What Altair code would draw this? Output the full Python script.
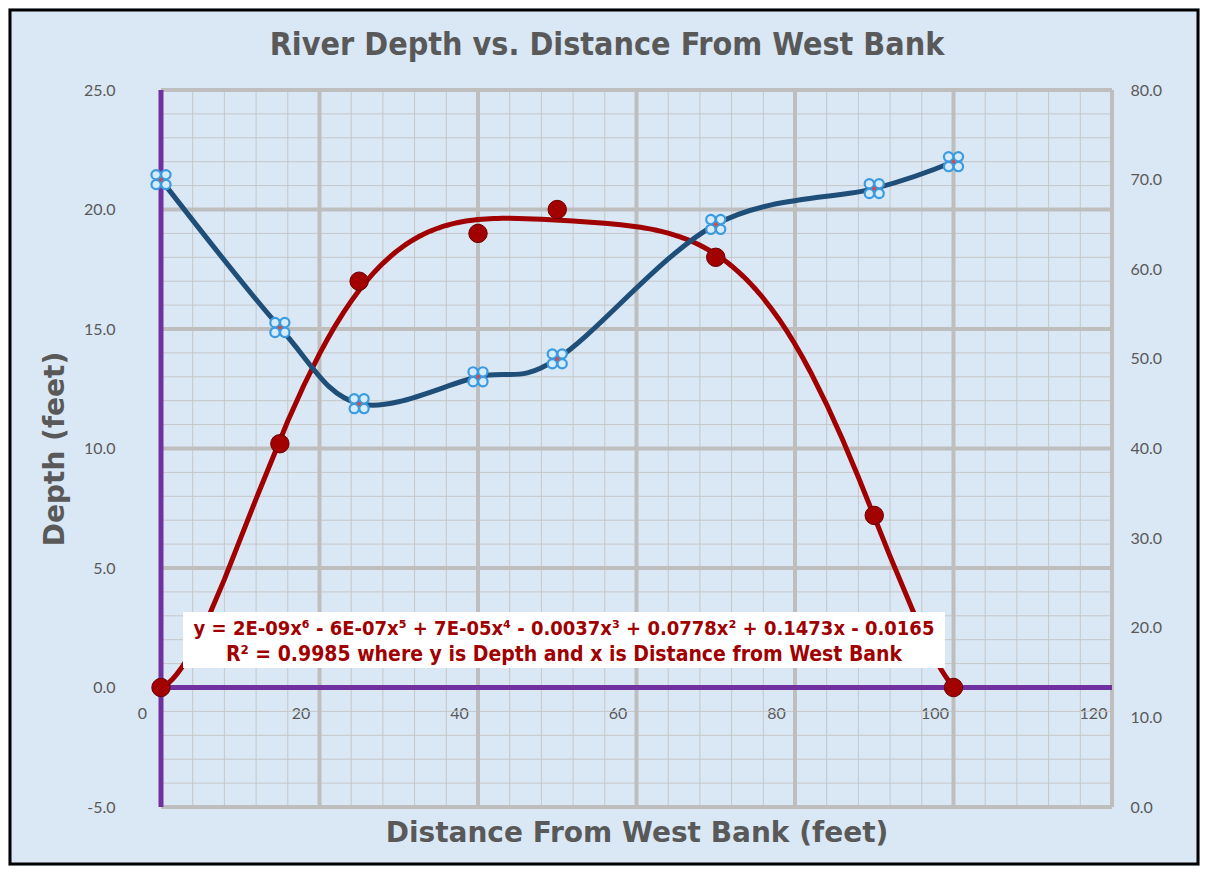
import altair as alt
import pandas as pd

# ---------------- data ----------------
distance = [0, 15, 25, 40, 50, 70, 90, 100]
depth = [0.0, 10.2, 17.0, 19.0, 20.0, 18.0, 7.2, 0.0]
right_series = [70.0, 53.5, 45.0, 48.0, 50.0, 65.0, 69.0, 72.0]

x_ticks = [0, 20, 40, 60, 80, 100, 120]
x_minor = list(range(0, 121, 4))
y_left_ticks = [-5, 0, 5, 10, 15, 20, 25]
y_minor = list(range(-5, 26))
y_right_ticks = [0, 10, 20, 30, 40, 50, 60, 70, 80]

chart_title = "River Depth vs. Distance From West Bank"
x_title = "Distance From West Bank (feet)"
y_title = "Depth (feet)"
eq_line1 = "y = 2E-09x\u2076 - 6E-07x\u2075 + 7E-05x\u2074 - 0.0037x\u00b3 + 0.0778x\u00b2 + 0.1473x - 0.0165"
eq_line2 = "R\u00b2 = 0.9985 where y is Depth and x is Distance from West Bank"

# ---------------- styles ----------------
GRAY_TXT = "#595959"
PURPLE = "#7030a0"
RED = "#a00000"
BLUE = "#1f4e79"
LABEL_FONT = "Lato"
TITLE_FONT = "DejaVu Sans"
NARROW_FONT = "DejaVu Sans Condensed, Liberation Sans, sans-serif"

W, H = 951, 717

red_df = pd.DataFrame({"x": distance, "y": depth})
blue_df = pd.DataFrame({"x": distance, "v": right_series})

xs = alt.Scale(domain=[0, 120], nice=False, zero=False)
yls = alt.Scale(domain=[-5, 25], nice=False, zero=False)
yrs = alt.Scale(domain=[0, 80], nice=False, zero=False)

x_axis = alt.Axis(values=x_ticks, format="d", title=x_title, grid=False, domain=False,
                  ticks=False, tickSize=0, labelPadding=17, labelOffset=-19, offset=-119,
                  labelFlush=False, labelOverlap=False, labelFont=LABEL_FONT, labelFontSize=16,
                  labelColor=GRAY_TXT, titleFont=TITLE_FONT, titleFontSize=28,
                  titleFontWeight="bold", titleColor=GRAY_TXT, titleY=145,
                  titleBaseline="middle")
y_axis = alt.Axis(values=y_left_ticks, format=".1f", title=y_title, grid=False, domain=False,
                  ticks=False, tickSize=0, labelPadding=46, labelFont=LABEL_FONT,
                  labelFontSize=16, labelColor=GRAY_TXT, labelOverlap=False, labelFlush=False,
                  labelExpr="replace(datum.label, '\u2212', '-')",
                  titleFont=TITLE_FONT, titleFontSize=28, titleFontWeight="bold",
                  titleColor=GRAY_TXT, titleX=-106, titleY=358.5, titleAngle=270,
                  titleAlign="center", titleBaseline="middle")
yr_axis = alt.Axis(values=y_right_ticks, format=".1f", title=None, grid=False, domain=False,
                   ticks=False, tickSize=0, labelPadding=18, labelFont=LABEL_FONT,
                   labelFontSize=16, labelColor=GRAY_TXT, orient="right",
                   labelOverlap=False, labelFlush=False)

X = alt.X("x:Q", scale=xs, axis=x_axis)
Y = alt.Y("y:Q", scale=yls, axis=y_axis)

minor_x = alt.Chart(pd.DataFrame({"x": x_minor})).mark_rule(color="#c6c6c6", strokeWidth=1).encode(x=X)
minor_y = alt.Chart(pd.DataFrame({"y": y_minor})).mark_rule(color="#c6c6c6", strokeWidth=1).encode(y=Y)
major_x = alt.Chart(pd.DataFrame({"x": x_ticks})).mark_rule(color="#bebebe", strokeWidth=4).encode(x=X)
major_y = alt.Chart(pd.DataFrame({"y": y_left_ticks})).mark_rule(color="#bebebe", strokeWidth=4).encode(y=Y)
purple_v = alt.Chart(pd.DataFrame({"x": [0]})).mark_rule(color=PURPLE, strokeWidth=5).encode(x=X)
purple_h = alt.Chart(pd.DataFrame({"y": [0]})).mark_rule(color=PURPLE, strokeWidth=5).encode(y=Y)

red_trend = alt.Chart(red_df).transform_regression(
    "x", "y", method="poly", order=6, extent=[0, 100]
).mark_line(color=RED, strokeWidth=5).encode(x=X, y=Y)
red_pts = alt.Chart(red_df).mark_point(shape="circle", filled=True, size=340, fill="#a30000",
                                       stroke="#6a0000", strokeWidth=1, opacity=1).encode(x=X, y=Y)

left = alt.layer(minor_x, minor_y, major_x, major_y, purple_v, purple_h, red_trend, red_pts)

clover = ("M -0.98,-0.5 A 0.48,0.48 0 1,1 -0.02,-0.5 A 0.48,0.48 0 1,1 -0.98,-0.5 Z "
          "M 0.02,-0.5 A 0.48,0.48 0 1,1 0.98,-0.5 A 0.48,0.48 0 1,1 0.02,-0.5 Z "
          "M -0.98,0.5 A 0.48,0.48 0 1,1 -0.02,0.5 A 0.48,0.48 0 1,1 -0.98,0.5 Z "
          "M 0.02,0.5 A 0.48,0.48 0 1,1 0.98,0.5 A 0.48,0.48 0 1,1 0.02,0.5 Z")

YR = alt.Y("v:Q", scale=yrs, axis=yr_axis)
blue_line = alt.Chart(blue_df).mark_line(interpolate="cardinal", color=BLUE, strokeWidth=5).encode(x=X, y=YR)
blue_pts = alt.Chart(blue_df).mark_point(shape=clover, size=380, filled=True, fill="#d6ecfc",
                                         stroke="#3b9be0", strokeWidth=2.2, opacity=1).encode(x=X, y=YR)
blue_dots = alt.Chart(blue_df).mark_point(shape="circle", size=16, filled=True, color="#d0504f",
                                          opacity=1).encode(x=X, y=YR)
right = alt.layer(blue_line, blue_pts, blue_dots)

box = alt.Chart(pd.DataFrame({"k": [0]})).mark_rect(fill="white", opacity=1).encode(
    x=alt.value(22), x2=alt.value(784), y=alt.value(522), y2=alt.value(578))
eq1 = alt.Chart(pd.DataFrame({"t": [eq_line1]})).mark_text(
    font=NARROW_FONT, fontSize=20, fontWeight="bold", color="#a00000",
    align="center", baseline="middle").encode(x=alt.value(403), y=alt.value(539), text="t:N")
eq2 = alt.Chart(pd.DataFrame({"t": [eq_line2]})).mark_text(
    font=NARROW_FONT, fontSize=21, fontWeight="bold", color="#a00000",
    align="center", baseline="middle").encode(x=alt.value(403), y=alt.value(565), text="t:N")

title_txt = alt.Chart(pd.DataFrame({"t": [chart_title]})).mark_text(
    font=NARROW_FONT, fontSize=32, fontWeight="bold", color=GRAY_TXT,
    align="center", baseline="middle").encode(x=alt.value(446), y=alt.value(-45), text="t:N")

frame = alt.Chart(pd.DataFrame({"k": [0]})).mark_rect(fill=None, stroke="black", strokeWidth=3).encode(
    x=alt.value(-151), x2=alt.value(1037), y=alt.value(-80), y2=alt.value(774))

chart = alt.layer(left, right, box, eq1, eq2, title_txt, frame).resolve_scale(y="independent").properties(
    width=W, height=H,
    autosize=alt.AutoSizeParams(type="none"),
    padding={"left": 153, "top": 82, "right": 88, "bottom": 59},
).configure(background="#dae8f6").configure_view(stroke=None)

chart.save("out.html", embed_options={"renderer": "svg", "actions": False})
